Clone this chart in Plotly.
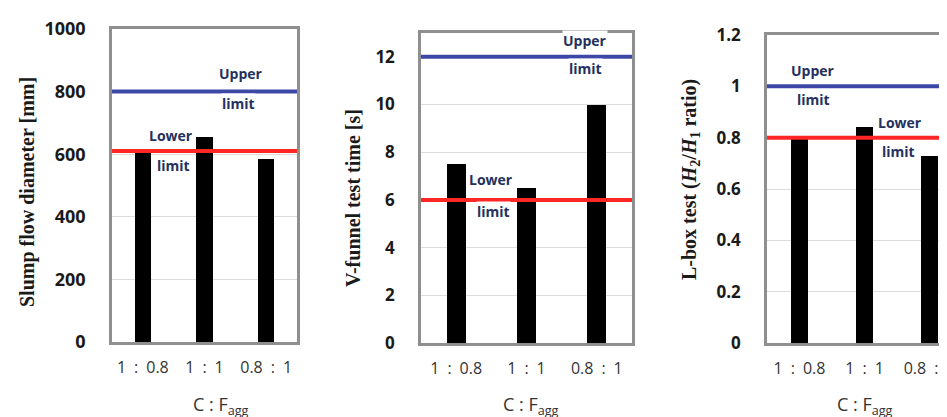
import plotly.graph_objects as go

# ---------------- data ----------------
categories = ["1\u2002:\u20020.8", "1\u2002:\u20021", "0.8\u2002:\u20021"]

slump_flow = [605, 655, 585]          # mm
slump_upper = 800
slump_lower = 610

v_funnel = [7.5, 6.5, 10.0]           # s
vfun_upper = 12
vfun_lower = 6

l_box = [0.80, 0.84, 0.73]            # H2/H1
lbox_upper = 1.0
lbox_lower = 0.80

y_titles = ["Slump flow diameter [mm]",
            "V-funnel test time [s]",
            "L-box test (<i>H</i><sub>2</sub>/<i>H</i><sub>1</sub> ratio)"]
x_title = "C : F<sub>agg</sub>"

# ---------------- layout helpers ----------------
W, H = 947, 417
def px(x):
    return x / W
def py(y):
    return (H - y) / H

xpos = list(range(len(categories)))

BLUE = "#3d47a6"
RED = "#ff2626"
LBL = "#24305e"

fig = go.Figure()

panels = [
    dict(vals=slump_flow, up=slump_upper, lo=slump_lower, xd=[px(104), px(289)],
         yd=[py(334), py(21)], yr=[0, 1000], dt=200, xr=[-0.5, 2.5], tfs=18),
    dict(vals=v_funnel, up=vfun_upper, lo=vfun_lower, xd=[px(413), px(624)],
         yd=[py(335), py(25)], yr=[0, 13], dt=2, xr=[-0.5, 2.5], tfs=17),
    dict(vals=l_box, up=lbox_upper, lo=lbox_lower, xd=[px(759), 1.0],
         yd=[py(335), py(27)], yr=[0, 1.2], dt=0.2, xr=[-0.5, 2.39], tfs=17),
]

layout_axes = {}
for i, p in enumerate(panels, start=1):
    xa = "x" if i == 1 else f"x{i}"
    ya = "y" if i == 1 else f"y{i}"
    fig.add_trace(go.Bar(x=xpos, y=p["vals"], width=0.27, marker=dict(color="black", line=dict(width=0)),
                         xaxis=xa, yaxis=ya, showlegend=False))
    fig.add_trace(go.Scatter(x=[-0.5, 2.5], y=[p["up"], p["up"]], mode="lines",
                             line=dict(color=BLUE, width=4), xaxis=xa, yaxis=ya, showlegend=False))
    fig.add_trace(go.Scatter(x=[-0.5, 2.5], y=[p["lo"], p["lo"]], mode="lines",
                             line=dict(color=RED, width=4), xaxis=xa, yaxis=ya, showlegend=False))
    xk = "xaxis" if i == 1 else f"xaxis{i}"
    yk = "yaxis" if i == 1 else f"yaxis{i}"
    layout_axes[xk] = dict(domain=p["xd"], range=p["xr"], anchor=ya, tickvals=xpos, ticktext=categories,
                           showgrid=False, zeroline=False, showline=True, linecolor="#8f8f8f",
                           linewidth=2.5, mirror=True, ticks="", ticklabelstandoff=9,
                           ticklabeloverflow="allow",
                           tickfont=dict(family="Open Sans", size=16, color="#333333"), automargin=False)
    layout_axes[yk] = dict(domain=p["yd"], range=p["yr"], anchor=xa, dtick=p["dt"], tick0=0,
                           showgrid=True, gridcolor="#dcdcdc", gridwidth=1, zeroline=False,
                           showline=True, linecolor="#8f8f8f", linewidth=2.5, mirror=(i != 3),
                           ticks="", ticklabelstandoff=20,
                           tickfont=dict(family="Open Sans", size=p["tfs"], color="#1a1a1a", weight="bold"),
                           automargin=False)

fig.update_layout(width=W, height=H, margin=dict(l=0, r=0, t=0, b=0),
                  plot_bgcolor="white", paper_bgcolor="white", bargap=0, **layout_axes)

annotations = []
# y-axis titles
for (xc, yc), t in zip([(19, 184), (345, 190), (682, 172)], y_titles):
    annotations.append(dict(x=px(xc), y=py(yc), xref="paper", yref="paper", text=t, textangle=-90,
                            showarrow=False, xanchor="center", yanchor="middle",
                            font=dict(family="Liberation Serif", size=20, color="#1a1a1a", weight="bold")))
# x-axis titles
for xc in [213, 523, 857]:
    annotations.append(dict(x=px(xc), y=py(397), xref="paper", yref="paper", text=x_title,
                            showarrow=False, xanchor="center", yanchor="middle",
                            font=dict(family="Open Sans", size=18, color="#333333")))
# limit labels
limit_labels = [
    ("Upper", 233, 65), ("limit", 230, 95), ("Lower", 163, 128), ("limit", 165, 157),
    ("Upper", 577, 33), ("limit", 577, 61), ("Lower", 483, 171), ("limit", 485, 203),
    ("Upper", 805, 63), ("limit", 805, 92), ("Lower", 892, 115), ("limit", 890, 143),
]
for t, xc, yc in limit_labels:
    annotations.append(dict(x=px(xc), y=py(yc), xref="paper", yref="paper", text=t,
                            showarrow=False, xanchor="center", yanchor="middle",
                            bgcolor="white", borderpad=0,
                            font=dict(family="Open Sans", size=14, color=LBL, weight="bold")))
fig.update_layout(annotations=annotations)

fig.write_html("out.html")
